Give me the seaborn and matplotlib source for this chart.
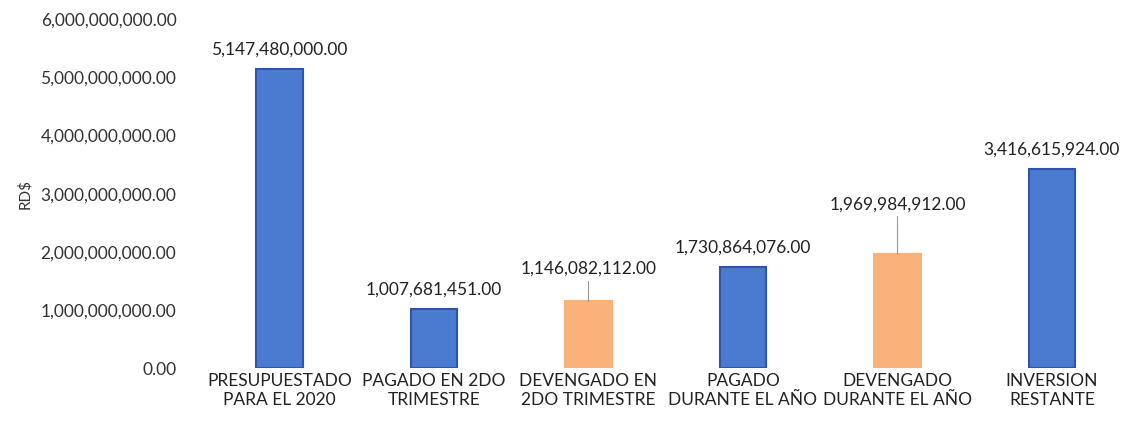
import pandas as pd
import seaborn as sns
import matplotlib.pyplot as plt

categorias = ['PRESUPUESTADO\nPARA EL 2020', 'PAGADO EN 2DO\nTRIMESTRE', 'DEVENGADO EN\n2DO TRIMESTRE',
              'PAGADO\nDURANTE EL AÑO', 'DEVENGADO\nDURANTE EL AÑO', 'INVERSION\nRESTANTE']
montos = [5147480000.00, 1007681451.00, 1146082112.00, 1730864076.00, 1969984912.00, 3416615924.00]
colores = ['#4A7BD0', '#4A7BD0', '#F8B27A', '#4A7BD0', '#F8B27A', '#4A7BD0']
bordes = ['#2D56A8', '#2D56A8', '#F8B27A', '#2D56A8', '#F8B27A', '#2D56A8']
# offset of the value label above the bar (orange ones use a leader line)
desfase = [200e6, 200e6, 420e6, 200e6, 700e6, 200e6]

df = pd.DataFrame({'cat': categorias, 'monto': montos})

sns.set_style('white')
plt.rcParams['font.family'] = ['Lato', 'DejaVu Sans']

fig, ax = plt.subplots(figsize=(11.33, 4.28), dpi=100)
fig.subplots_adjust(left=0.19, right=0.985, bottom=0.14, top=0.955)

sns.barplot(data=df, x='cat', y='monto', hue='cat', palette=colores, legend=False,
            width=0.3, saturation=1, ax=ax)
for patch, ec in zip(ax.patches, bordes):
    patch.set_edgecolor(ec)
    patch.set_linewidth(1.5)

for i, (v, d) in enumerate(zip(montos, desfase)):
    ax.text(i, v + d, f'{v:,.2f}', ha='center', va='bottom', fontsize=12.5, color='#222222')
    if d > 300e6:
        ax.plot([i, i], [v, v + d - 60e6], color='#999999', lw=0.8)

ax.set_ylim(0, 6e9)
ax.set_yticks(range(0, 6000000001, 1000000000))
ax.set_yticklabels([f'{t:,.2f}' for t in range(0, 6000000001, 1000000000)], fontsize=12.5, color='#333333')
ax.set_xlabel('')
ax.set_ylabel('RD$', fontsize=11, color='#333333', labelpad=6)
ax.tick_params(axis='x', labelsize=12.5, colors='#222222', length=0)
ax.tick_params(axis='y', length=0, pad=28)
sns.despine(left=True, bottom=True)

plt.savefig('out.png')
